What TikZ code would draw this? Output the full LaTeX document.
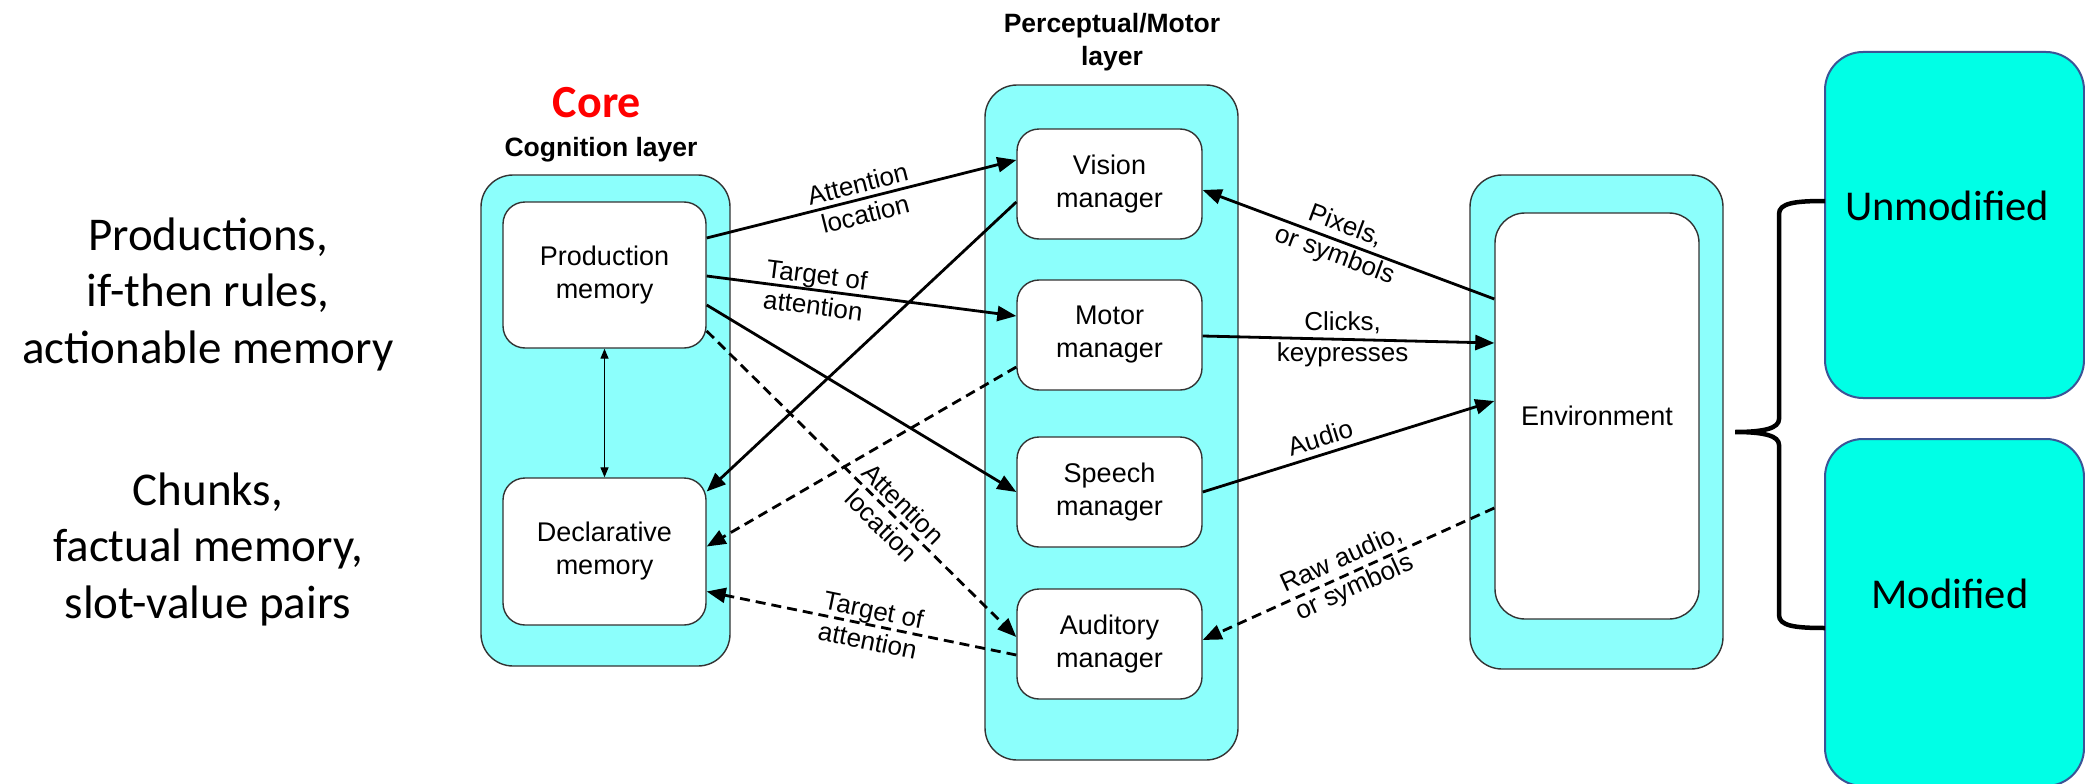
\documentclass[tikz,border=0pt]{standalone}
\usepackage{fontspec}
\setmainfont{Liberation Sans}
\newfontfamily\calibri{Carlito}
\usetikzlibrary{arrows.meta}
\definecolor{layercyan}{RGB}{140,255,252}
\definecolor{choicecyan}{RGB}{0,255,230}
\definecolor{choiceblue}{RGB}{59,84,150}
\definecolor{coreRed}{RGB}{255,0,0}

\begin{document}
\begin{tikzpicture}[x=1pt,y=-1pt]
\tikzstyle{every node}+=[inner sep=0pt]
\tikzstyle{layerbox}=[draw=black!80,fill=layercyan,line width=1.4pt,rounded corners=32pt]
\tikzstyle{unitbox}=[draw=black!80,fill=white,line width=1.4pt,rounded corners=22pt,align=center,font=\fontsize{27}{33}\selectfont]
\tikzstyle{choicebox}=[draw=choiceblue,fill=choicecyan,line width=2pt,rounded corners=38pt]
\tikzstyle{conn}=[line width=2.8pt,-{Triangle[length=19pt,width=15pt]}]
\tikzstyle{dconn}=[conn,dash pattern=on 10pt off 6pt]
\tikzstyle{lbl}=[align=center,font=\fontsize{26}{31}\selectfont]
\tikzstyle{note}=[align=center,font=\calibri\fontsize{47}{56.5}\selectfont]
\tikzstyle{title}=[align=center,font=\bfseries\fontsize{26.5}{33}\selectfont]
\useasboundingbox (0,0) rectangle (2085,784);
\node[note] (prodNote) at (208,294) {Productions,\\if-then rules,\\actionable memory};
\node[note] (declNote) at (208,549) {Chunks,\\factual memory,\\slot-value pairs};
\node[font=\calibri\bfseries\fontsize{46}{55}\selectfont,text=coreRed] (coreLbl) at (597,103) {Core};
\node[title] (cogTitle) at (601,150) {Cognition layer};
\node[title] (pmTitle) at (1112,42) {Perceptual/Motor\\layer};
\node[layerbox,minimum width=249pt,minimum height=491pt] (cogLayer) at (605.5,420.5) {};
\node[unitbox,minimum width=203pt,minimum height=146pt] (prodMem) at (604.5,275) {Production\\memory};
\node[unitbox,minimum width=203pt,minimum height=147pt] (declMem) at (604.5,551.5) {Declarative\\memory};
\node[layerbox,minimum width=253pt,minimum height=675pt] (pmLayer) at (1111.5,422.5) {};
\node[unitbox,minimum width=185pt,minimum height=110pt] (visMgr) at (1109.5,184) {Vision\\manager};
\node[unitbox,minimum width=185pt,minimum height=110pt] (motMgr) at (1109.5,335) {Motor\\manager};
\node[unitbox,minimum width=185pt,minimum height=110pt] (spMgr) at (1109.5,492) {Speech\\manager};
\node[unitbox,minimum width=185pt,minimum height=110pt] (audMgr) at (1109.5,644) {Auditory\\manager};
\node[layerbox,minimum width=253pt,minimum height=494pt] (envLayer) at (1596.5,422) {};
\node[unitbox,minimum width=204pt,minimum height=406pt,rounded corners=30pt] (envBox) at (1597,416) {Environment};
\node[choicebox,minimum width=259pt,minimum height=346pt] (unmodBox) at (1954.5,225) {};
\node[font=\calibri\fontsize{42.5}{50}\selectfont] (unmodLbl) at (1947,206) {Unmodified};
\node[choicebox,minimum width=259pt,minimum height=347pt] (modBox) at (1954.5,612.5) {};
\node[font=\calibri\fontsize{42.5}{50}\selectfont] (modLbl) at (1950,594) {Modified};
\draw[line width=1.3pt,{Triangle[length=10pt,width=8pt]}-{Triangle[length=10pt,width=8pt]}] (prodMem.south) -- (declMem.north);
\draw[conn] ([yshift=37pt]prodMem.east) -- node[lbl,sloped] {Attention\\location} ([yshift=24pt]visMgr.west);
\draw[conn] ([yshift=-1pt]prodMem.east) -- node[lbl,sloped,pos=0.35] {Target of\\attention} ([yshift=19pt]motMgr.west);
\draw[conn] ([yshift=-30pt]prodMem.east) -- (spMgr.west);
\draw[dconn] ([yshift=-56pt]prodMem.east) -- node[lbl,sloped,pos=0.6] {Attention\\location} ([yshift=7pt]audMgr.west);
\draw[conn] ([yshift=-18pt]visMgr.west) -- ([yshift=60pt]declMem.east);
\draw[dconn] ([yshift=-32pt]motMgr.west) -- ([yshift=5pt]declMem.east);
\draw[dconn] ([yshift=-11pt]audMgr.west) -- node[lbl,sloped,pos=0.47] {Target of\\attention} ([yshift=-40pt]declMem.east);
\draw[conn] ([yshift=117pt]envBox.west) -- node[lbl,sloped,pos=0.53] {Pixels,\\or symbols} ([yshift=-6pt]visMgr.east);
\draw[conn] ([yshift=-1pt]motMgr.east) -- node[lbl,pos=0.48] {Clicks,\\keypresses} ([yshift=73pt]envBox.west);
\draw[conn] (spMgr.east) -- node[lbl,sloped,above=6pt,pos=0.42] {Audio} ([yshift=15pt]envBox.west);
\draw[dconn] ([yshift=-92pt]envBox.west) -- node[lbl,sloped,pos=0.5] {Raw audio,\\or symbols} ([yshift=4pt]audMgr.east);
\draw[line width=4.5pt] (1825,201) .. controls (1795,201) and (1779,203) .. (1779,214) -- (1779,419) .. controls (1779,428) and (1765,432) .. (1735,432) .. controls (1765,432) and (1779,436) .. (1779,445) -- (1779,615) .. controls (1779,626) and (1795,628) .. (1825,628);
\end{tikzpicture}
\end{document}
